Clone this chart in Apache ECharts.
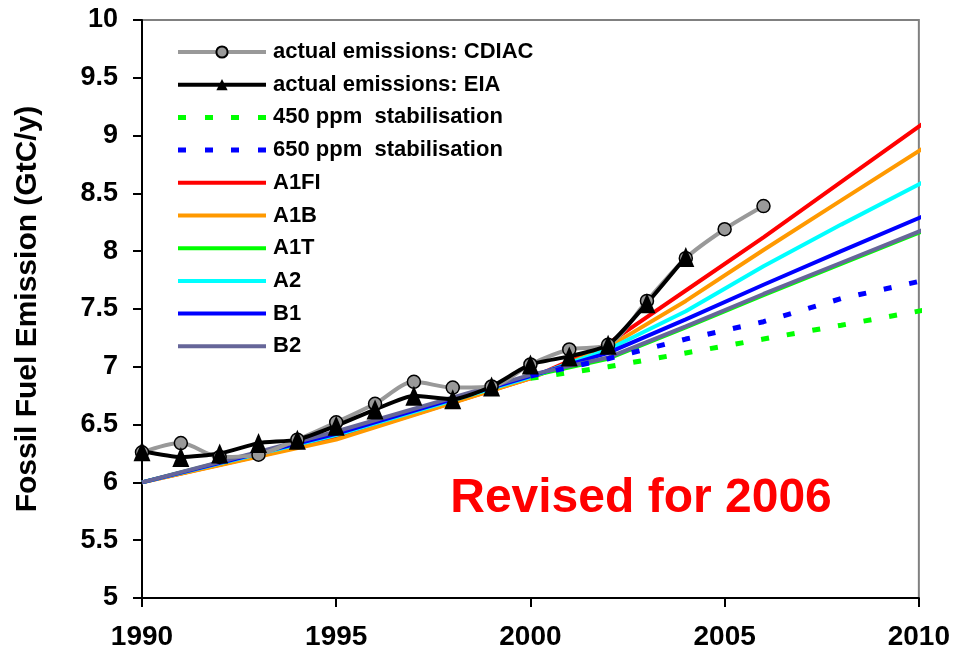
<!DOCTYPE html>
<html>
<head>
<meta charset="utf-8">
<script src="https://cdn.jsdelivr.net/npm/echarts@6/dist/echarts.min.js"></script>
<style>
  html, body { margin: 0; padding: 0; background: #fff; }
  #chart { width: 953px; height: 655px; }
</style>
</head>
<body>
<div id="chart"></div>
<script>
// actual emissions
const years = [1990, 1991, 1992, 1993, 1994, 1995, 1996, 1997, 1998, 1999, 2000, 2001, 2002, 2003, 2004, 2005, 2006];
const cdiac = [6.26, 6.34, 6.22, 6.24, 6.37, 6.52, 6.68, 6.87, 6.82, 6.83, 7.02, 7.15, 7.19, 7.57, 7.94, 8.19, 8.39];
const eia = [6.27, 6.22, 6.25, 6.34, 6.37, 6.49, 6.63, 6.75, 6.72, 6.83, 7.02, 7.09, 7.19, 7.55, 7.95];

// SRES scenarios
const scenarioYears = [1990, 1995, 2000, 2002, 2004, 2006, 2008, 2010.3];
const a1fi = [6.0, 6.38, 6.90, 7.20, 7.66, 8.12, 8.60, 9.15];
const a1b = [6.0, 6.37, 6.90, 7.17, 7.57, 8.01, 8.44, 8.93];
const a1t = [6.0, 6.43, 6.92, 7.07, 7.34, 7.62, 7.89, 8.20];
const a2 = [6.0, 6.41, 6.91, 7.15, 7.48, 7.87, 8.23, 8.63];
const b1 = [6.0, 6.42, 6.92, 7.12, 7.41, 7.71, 8.00, 8.33];
const b2 = [6.0, 6.44, 6.93, 7.08, 7.35, 7.63, 7.90, 8.21];

// stabilisation paths
const stabYears = [2000, 2002, 2004, 2006, 2008, 2010.3];
const ppm450 = [6.90, 7.00, 7.12, 7.24, 7.36, 7.50];
const ppm650 = [6.92, 7.07, 7.24, 7.39, 7.59, 7.76];

const pair = (xs, ys) => ys.map((y, i) => [xs[i], y]);
const font = 'Arial, "Liberation Sans", sans-serif';

// legend icons: plain bar / dashes inside an 88x14 box
const solidIcon = 'path://M0,0L0,0M0,5L88,5L88,9L0,9ZM88,14L88,14';
const dashIcon = 'path://M0,0L0,0M0,4.5L8,4.5L8,9.5L0,9.5ZM27,4.5L35,4.5L35,9.5L27,9.5Z' +
  'M53,4.5L61,4.5L61,9.5L53,9.5ZM80,4.5L88,4.5L88,9.5L80,9.5ZM88,14L88,14';

const myChart = echarts.init(document.getElementById('chart'));

const scenario = (name, data, color) => ({
  name: name,
  type: 'line',
  data: pair(scenarioYears, data),
  symbol: 'none',
  clip: false,
  lineStyle: { color: color, width: 4 },
  itemStyle: { color: color },
});

const stab = (name, data, color) => ({
  name: name,
  type: 'line',
  data: pair(stabYears, data),
  symbol: 'none',
  clip: false,
  lineStyle: { color: color, width: 5, type: [8, 18] },
  itemStyle: { color: color },
});

const options = {
  animation: false,
  grid: {
    left: 142, right: 34, top: 20, bottom: 57,
    show: true,
    borderColor: '#808080',
    borderWidth: 2,
  },
  legend: {
    orient: 'vertical',
    left: 171,
    top: 35,
    itemWidth: 88,
    itemHeight: 14,
    itemGap: 8.7,
    selectedMode: false,
    lineStyle: { width: 4 },
    data: [
      { name: 'actual emissions: CDIAC' },
      { name: 'actual emissions: EIA' },
      { name: '450 ppm  stabilisation', icon: dashIcon },
      { name: '650 ppm  stabilisation', icon: dashIcon },
      { name: 'A1FI', icon: solidIcon },
      { name: 'A1B', icon: solidIcon },
      { name: 'A1T', icon: solidIcon },
      { name: 'A2', icon: solidIcon },
      { name: 'B1', icon: solidIcon },
      { name: 'B2', icon: solidIcon },
    ],
    textStyle: {
      fontSize: 22,
      fontWeight: 'bold',
      fontFamily: font,
      color: '#000',
      lineHeight: 24,
      padding: [0, 0, 0, 2],
    },
  },
  graphic: [{
    type: 'text',
    x: 641,
    y: 499,
    style: {
      text: 'Revised for 2006',
      font: 'bold 48px ' + font,
      fill: '#ff0000',
      align: 'center',
      verticalAlign: 'middle',
    },
  }],
  xAxis: {
    type: 'value',
    min: 1990,
    max: 2010,
    interval: 5,
    axisLine: { lineStyle: { color: '#000', width: 2 } },
    axisTick: { show: true, length: 9, lineStyle: { color: '#000', width: 2 } },
    axisLabel: {
      margin: 25,
      fontSize: 28,
      fontWeight: 'bold',
      fontFamily: font,
      color: '#000',
      formatter: v => String(v),
    },
    splitLine: { show: false },
  },
  yAxis: {
    type: 'value',
    min: 5,
    max: 10,
    interval: 0.5,
    name: 'Fossil Fuel Emission (GtC/y)',
    nameLocation: 'middle',
    nameRotate: 90,
    nameGap: 99,
    nameTextStyle: {
      fontSize: 30,
      fontWeight: 'bold',
      fontFamily: font,
      color: '#000',
    },
    axisLine: { show: true, lineStyle: { color: '#000', width: 2 } },
    axisTick: { show: true, length: 9, lineStyle: { color: '#000', width: 2 } },
    axisLabel: {
      margin: 24,
      fontSize: 27,
      fontWeight: 'bold',
      fontFamily: font,
      color: '#000',
    },
    splitLine: { show: false },
  },
  series: [
    scenario('A1FI', a1fi, '#ff0000'),
    scenario('A1B', a1b, '#ff9900'),
    scenario('A1T', a1t, '#00ff00'),
    scenario('A2', a2, '#00ffff'),
    scenario('B1', b1, '#0000ff'),
    scenario('B2', b2, '#666699'),
    stab('450 ppm  stabilisation', ppm450, '#00ff00'),
    stab('650 ppm  stabilisation', ppm650, '#0000ff'),
    {
      name: 'actual emissions: CDIAC',
      type: 'line',
      data: pair(years, cdiac),
      smooth: 0.3,
      symbol: 'circle',
      symbolSize: 13,
      lineStyle: { color: '#999999', width: 4 },
      itemStyle: { color: '#999999', borderColor: '#000', borderWidth: 1.5 },
    },
    {
      name: 'actual emissions: EIA',
      type: 'line',
      data: pair(years, eia),
      smooth: 0.2,
      symbol: 'triangle',
      symbolSize: [17, 20],
      lineStyle: { color: '#000', width: 4 },
      itemStyle: { color: '#000' },
    },
  ],
};

myChart.setOption(options);
</script>
</body>
</html>
